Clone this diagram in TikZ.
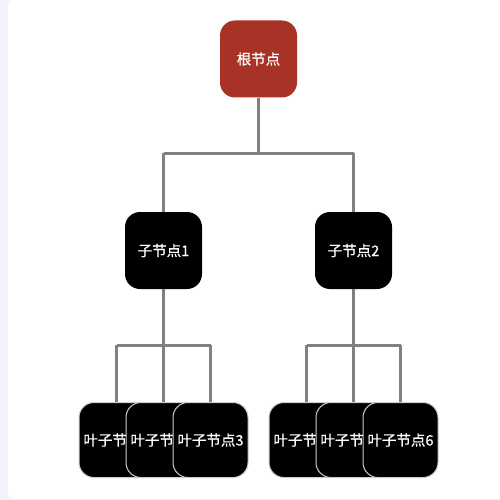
\documentclass[tikz,border=0pt]{standalone}
\usepackage{fontspec}
\setmainfont{Noto Sans CJK SC}
\newfontfamily\boxfont{Noto Sans CJK SC}[FakeBold=0.6]
\definecolor{rootred}{HTML}{A93226}
\definecolor{linegray}{HTML}{808080}
\definecolor{bgstrip}{HTML}{F2F3F9}
\tikzset{
  box/.style={rounded corners=15pt, minimum width=77pt, minimum height=77pt, inner sep=0pt, text=white, font=\boxfont\fontsize{14.5pt}{16pt}\selectfont},
  rootbox/.style={box, fill=rootred},
  midbox/.style={box, fill=black},
  leafbox/.style={box, fill=black, draw=black!20, line width=1pt, minimum width=75pt, minimum height=75pt},
  conn/.style={draw=linegray, line width=3pt}
}
\begin{document}
\begin{tikzpicture}[x=1pt,y=-1pt]
\useasboundingbox (0,0) rectangle (500,500);
\fill[bgstrip] (0,0) rectangle (500,500);
\fill[white, rounded corners=5pt] (8,0) rectangle (505,499);
% connectors first
\coordinate (r1) at (258.5,153);
\coordinate (h1) at (163.5,153);
\coordinate (h2) at (353.5,153);
\coordinate (a1) at (116.5,345);
\coordinate (a2) at (163.5,345);
\coordinate (a3) at (210.5,345);
\coordinate (b1) at (306.5,345);
\coordinate (b2) at (353.5,345);
\coordinate (b3) at (400.5,345);
\node[rootbox] (root) at (258.5,59) {根节点};
\node[midbox] (c1) at (163.5,250.5) {子节点1};
\node[midbox] (c2) at (353.5,250.5) {子节点2};
\draw[conn] (root.south) -- (r1);
\draw[conn] (h1) -- (h2);
\draw[conn] (h1) -- (c1.north);
\draw[conn] (h2) -- (c2.north);
\draw[conn] (c1.south) -- (a2);
\draw[conn] (a1) -- (a3);
\draw[conn] (c2.south) -- (b2);
\draw[conn] (b1) -- (b3);
\draw[conn] (a1) -- (116.5,405) coordinate (la1);
\draw[conn] (a2) -- (163.5,405) coordinate (la2);
\draw[conn] (a3) -- (210.5,405) coordinate (la3);
\draw[conn] (b1) -- (306.5,405) coordinate (lb1);
\draw[conn] (b2) -- (353.5,405) coordinate (lb2);
\draw[conn] (b3) -- (400.5,405) coordinate (lb3);
\node[leafbox] (l1) at (116.5,440) {叶子节点1};
\node[leafbox] (l2) at (163.5,440) {叶子节点2};
\node[leafbox] (l3) at (210.5,440) {叶子节点3};
\node[leafbox] (l4) at (306.5,440) {叶子节点4};
\node[leafbox] (l5) at (353.5,440) {叶子节点5};
\node[leafbox] (l6) at (400.5,440) {叶子节点6};
\end{tikzpicture}
\end{document}
